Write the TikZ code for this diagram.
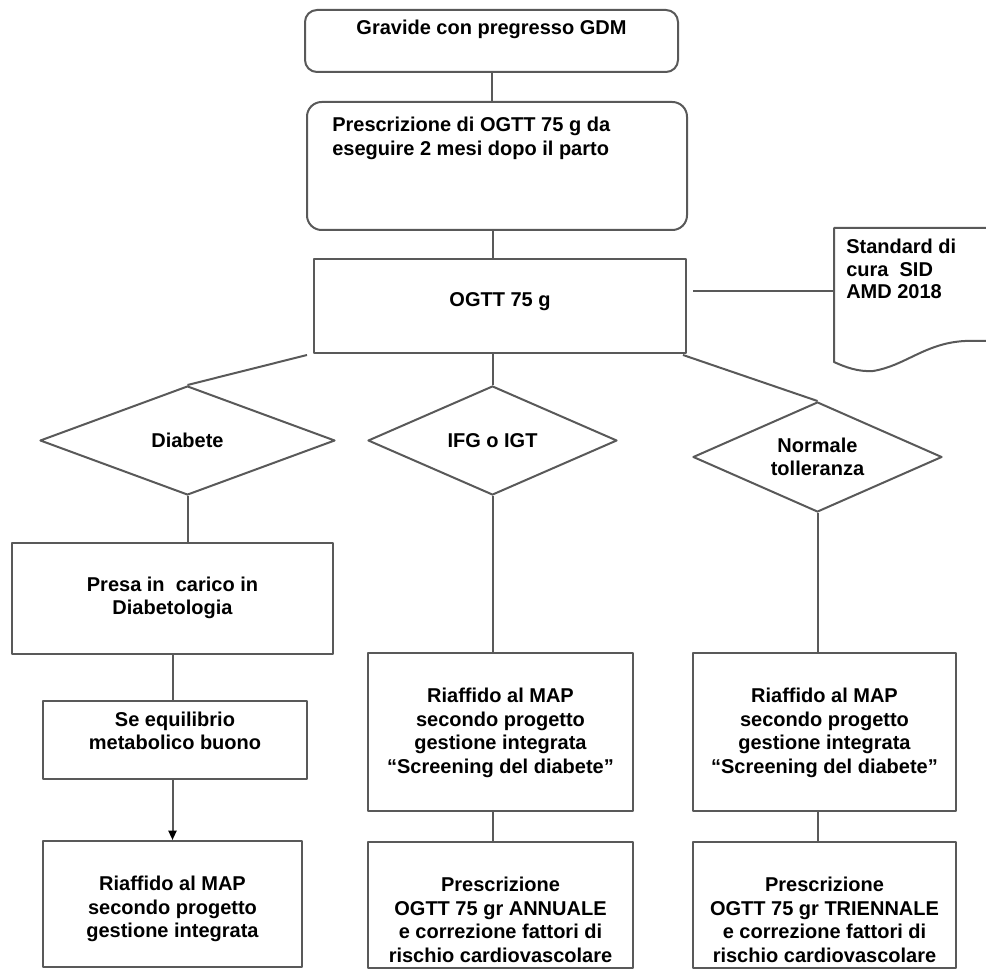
\documentclass[tikz,border=0pt]{standalone}
\usepackage{fontspec}
\setmainfont{Liberation Sans}
\usetikzlibrary{shapes.geometric,fit,arrows.meta}
\begin{document}
\begin{tikzpicture}[x=0.75pt,y=-0.75pt,
  ln/.style={draw=black!65, line width=1.5pt, line join=round},
  boxs/.style={ln, rectangle, inner sep=0pt},
  fnt/.style={font=\bfseries\fontsize{15}{17.6}\selectfont},
  txt/.style={fnt, align=center, inner sep=0pt, text=black},
  dia/.style={ln, diamond, aspect=2.3, inner sep=0pt, fnt, align=center, text=black},
]
\useasboundingbox (0,0) rectangle (986,973);

% top boxes
\node[boxs, rounded corners=9pt, fit={(305,10) (678,72)}] (b1) {};
\node[txt] (t1) at (491.5,29) {Gravide con pregresso GDM};
\node[boxs, rounded corners=11pt, fit={(307,102) (687,230)}] (b2) {};
\node[txt, align=left, anchor=north west] (t2) at (332,117) {Prescrizione di OGTT 75 g da\\eseguire 2 mesi dopo il parto};
\node[boxs, fit={(314,259) (686,353)}] (b3) {};
\node[txt] (t3) at (500,302) {OGTT 75 g};

% document shape
\coordinate (docw) at (834,291);
\draw[ln] (834,362) -- (834,228) -- (995,228) -- (995,341) -- (965,341)
  .. controls (925,343) and (905,366) .. (873,371)
  .. controls (858,372) and (845,367) .. (834,362) -- cycle;
\node[fnt, align=left, anchor=north west, inner sep=0pt, font=\bfseries\fontsize{15}{16.9}\selectfont] (td) at (846,239) {Standard di\\cura\ \ SID\\AMD 2018};

% diamonds
\node[dia, minimum width=221.25pt, minimum height=81.75pt] (d1) at (187.5,440.5) {Diabete};
\node[dia, minimum width=186.75pt, minimum height=81.75pt] (d2) at (492.5,440.5) {IFG o IGT};
\node[dia, minimum width=186.75pt, minimum height=82.5pt] (d3) at (817.5,457) {Normale\\tolleranza};

% left column
\node[boxs, fit={(12,543) (333,654)}] (p1) {};
\node[txt] (tp1) at (172.5,598) {Presa in\ \ carico in\\Diabetologia};
\node[boxs, fit={(43,701) (307,779)}] (p2) {};
\node[txt] (tp2) at (175,731) {Se equilibrio\\metabolico buono};
\node[boxs, fit={(43,841) (302,967)}] (p3) {};
\node[txt] (tp3) at (172.5,909) {Riaffido al MAP\\secondo progetto\\gestione integrata};

% middle column
\node[boxs, fit={(368,653) (633,811)}] (m1) {};
\node[txt] (tm1) at (500.5,733) {Riaffido al MAP\\secondo progetto\\gestione integrata\\“Screening del diabete”};
\node[boxs, fit={(368,842) (633,968)}] (m2) {};
\node[txt] (tm2) at (500.5,920) {Prescrizione\\OGTT 75 gr ANNUALE\\e correzione fattori di\\rischio cardiovascolare};

% right column
\node[boxs, fit={(693,653) (956,811)}] (r1) {};
\node[txt] (tr1) at (824.5,733) {Riaffido al MAP\\secondo progetto\\gestione integrata\\“Screening del diabete”};
\node[boxs, fit={(693,842) (956,968)}] (r2) {};
\node[txt] (tr2) at (824.5,920) {Prescrizione\\OGTT 75 gr TRIENNALE\\e correzione fattori di\\rischio cardiovascolare};

% connectors
\draw[ln] (b1.south) -- (b1.south |- b2.north);
\draw[ln] (d2.north |- b2.south) -- (d2.north |- b3.north);
\draw[ln] (d2.north |- b3.south) -- (d2.north);
\draw[ln] ([shift={(-6,1)}]b3.south west) -- (d1.north);
\draw[ln] ([shift={(-4,1)}]b3.south east) -- (d3.north);
\draw[ln] ([xshift=4.5pt]b3.east |- docw) -- (docw);
\draw[ln] (d1.south) -- (d1.south |- p1.north);
\draw[ln] (p1.south) -- (p1.south |- p2.north);
\draw[ln, -{Triangle[length=7pt,width=6pt,color=black]}] (p3.north |- p2.south) -- (p3.north);
\draw[ln] (d2.south) -- (d2.south |- m1.north);
\draw[ln] (d2.south |- m1.south) -- (d2.south |- m2.north);
\draw[ln] (d3.south) -- (d3.south |- r1.north);
\draw[ln] (d3.south |- r1.south) -- (d3.south |- r2.north);
\end{tikzpicture}
\end{document}
